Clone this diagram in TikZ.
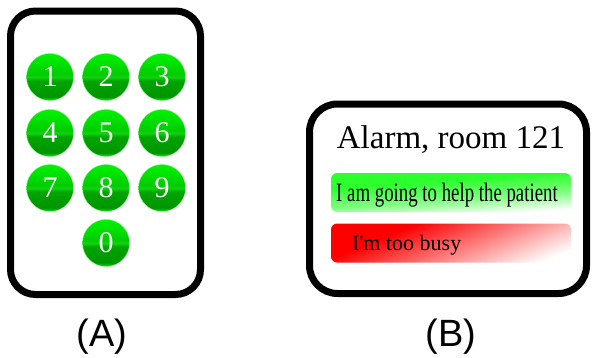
\documentclass[tikz,border=0pt]{standalone}
\usepackage{fontspec}
\setmainfont{Liberation Serif}
\newfontfamily\labelfont{Liberation Sans}
\definecolor{gtop}{HTML}{00F400}
\definecolor{gmid}{HTML}{00CC00}
\definecolor{gband}{HTML}{14D414}
\definecolor{gdark}{HTML}{009400}
\definecolor{gbot}{HTML}{18E418}
\definecolor{barg}{HTML}{2CFF2C}
\definecolor{barg2}{HTML}{80FF80}
\definecolor{barr}{HTML}{FF0000}
\pgfdeclareverticalshading{btnshade}{100bp}{color(0bp)=(gbot); color(25bp)=(gbot); color(29bp)=(gdark); color(46bp)=(gdark!70!gmid); color(50bp)=(gband); color(53bp)=(gmid); color(75bp)=(gtop); color(100bp)=(gtop)}
\pgfdeclareverticalshading{greenbar}{100bp}{color(0bp)=(white); color(26bp)=(white); color(43bp)=(barg2); color(62bp)=(barg); color(100bp)=(barg)}
\pgfdeclareverticalshading{redbar}{100bp}{color(0bp)=(white); color(23.3bp)=(white); color(66bp)=(barr); color(100bp)=(barr)}
\begin{document}
\begin{tikzpicture}[x=1pt,y=-1pt,
  frame/.style={draw=black, line width=7pt, fill=white, rounded corners=25pt, inner sep=0pt},
  key/.style={circle, minimum size=47pt, inner sep=0pt, shading=btnshade, draw=gbot!60!white, line width=0.4pt, text=white, font=\fontsize{30}{30}\selectfont},
  bar/.style={rounded corners=6pt, minimum width=240pt, minimum height=39pt, inner sep=0pt},
  lbl/.style={font=\labelfont\fontsize{38}{38}\selectfont, anchor=base, inner sep=0pt}]
\useasboundingbox (0,0) rectangle (592,357);
% phone
\node[frame, minimum width=190pt, minimum height=283.5pt] (phone) at (105.5,152.75) {};
\node[key] (k1) at (50,77) {1};
\node[key] (k2) at (106,77) {2};
\node[key] (k3) at (162,77) {3};
\node[key] (k4) at (50,133) {4};
\node[key] (k5) at (106,133) {5};
\node[key] (k6) at (162,133) {6};
\node[key] (k7) at (50,188) {7};
\node[key] (k8) at (106,188) {8};
\node[key] (k9) at (162,188) {9};
\node[key] (k0) at (106,243) {0};
% screen
\node[frame, minimum width=277pt, minimum height=189.5pt, rounded corners=28pt] (screen) at (448,198.75) {};
\node[font=\fontsize{33}{33}\selectfont, anchor=base, inner sep=0pt] (title) at (451,148) {Alarm, room 121};
\node[bar, shading=greenbar, shading angle=4] (yes) at (451,192.5) {};
\node[bar, shading=redbar, shading angle=22.4] (no) at (451,243) {};
\node[anchor=base west, inner sep=0pt, font=\fontsize{26.5}{26.5}\selectfont] (yestext) at (336,201) {\scalebox{0.71}[1]{I am going to help the patient}};
\node[anchor=base west, inner sep=0pt, font=\fontsize{22}{22}\selectfont] (notext) at (352,250) {I\textquotesingle m too busy};
% labels
\node[lbl] (la) at (102,346) {(A)};
\node[lbl] (lb) at (451,346) {(B)};
\end{tikzpicture}
\end{document}
